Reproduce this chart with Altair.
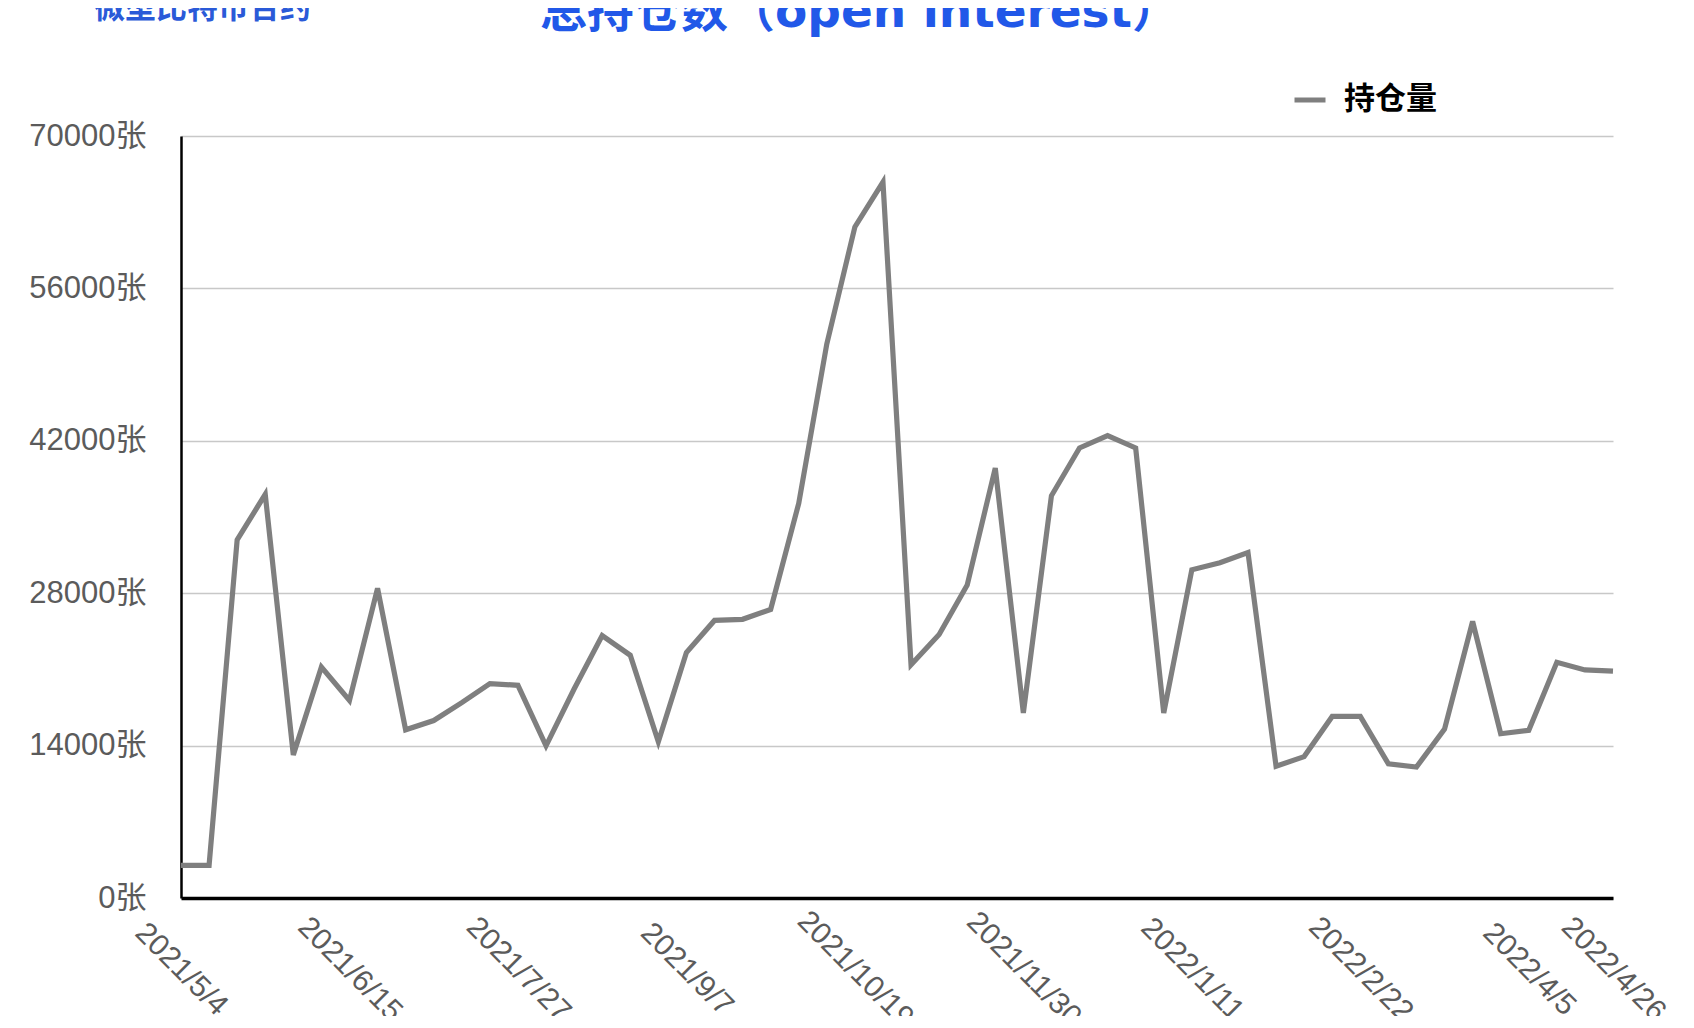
import altair as alt
import pandas as pd

# weekly observation dates (categories)
dates = [f"{d.year}/{d.month}/{d.day}" for d in pd.date_range("2021-05-04", periods=52, freq="7D")]

# open interest values (contracts)
open_interest = [
    3000, 3000, 32900, 37080, 13150, 21220, 18150, 28450, 15450, 16300,
    17950, 19700, 19540, 13980, 19200, 24100, 22300, 14350, 22550, 25500,
    25600, 26500, 36250, 50900, 61650, 65770, 21430, 24200, 28750, 39500,
    17000, 36950, 41340, 42480, 41340, 17000, 30150, 30800, 31740, 12110,
    12990, 16680, 16680, 12320, 12030, 15520, 25400, 15090, 15400, 21650,
    20950, 20840,
]
assert len(dates) == len(open_interest)

tick_dates = [dates[i] for i in (0, 6, 12, 18, 24, 30, 36, 42, 48, 51)]
y_ticks = [0, 14000, 28000, 42000, 56000, 70000]

series_name = "持仓量"
title_text = "总持仓数（open interest）"
subtitle_text = "微型比特币合约"

df = pd.DataFrame({"date": dates, "oi": open_interest, "series": series_name})

label_font = "Liberation Sans, Noto Sans CJK SC"
label_color = "#5b5b5b"

line = alt.Chart(df).mark_line(strokeWidth=5.2).encode(
    x=alt.X(
        "date:O",
        sort=None,
        title=None,
        scale=alt.Scale(type="point", padding=0),
        axis=alt.Axis(
            values=tick_dates,
            labelAngle=45,
            labelAlign="center",
            labelBaseline="middle",
            labelPadding=71,
            ticks=False,
            tickSize=0,
            grid=False,
            domainColor="black",
            domainWidth=3.5,
            labelFont=label_font,
            labelFontSize=30,
            labelColor=label_color,
            labelOverlap=False,
            labelFlush=False,
        ),
    ),
    y=alt.Y(
        "oi:Q",
        title=None,
        scale=alt.Scale(domain=[0, 70000], nice=False),
        axis=alt.Axis(
            values=y_ticks,
            labelExpr="datum.value + '张'",
            ticks=False,
            tickSize=0,
            labelPadding=35,
            grid=True,
            gridColor="#c8c8c8",
            gridWidth=1.5,
            domainColor="black",
            domainWidth=2.5,
            labelFont=label_font,
            labelFontSize=31,
            labelColor=label_color,
        ),
    ),
    color=alt.Color(
        "series:N",
        scale=alt.Scale(range=["#7f7f7f"]),
        legend=alt.Legend(
            title=None,
            orient="none",
            legendX=1111,
            legendY=-54,
            symbolType="stroke",
            symbolSize=961,
            symbolStrokeWidth=5,
            labelFont="Noto Sans CJK SC",
            labelFontSize=31,
            labelFontWeight="bold",
            labelColor="black",
            labelOffset=16,
            padding=0,
        ),
    ),
)

title = alt.Chart(alt.Data(values=[{"t": title_text}])).mark_text(
    align="left", baseline="alphabetic", font="DejaVu Sans, Noto Sans CJK SC",
    fontSize=47, fontWeight="bold", color="#2158e8",
).encode(text="t:N", x=alt.value(359), y=alt.value(-109))

subtitle = alt.Chart(alt.Data(values=[{"t": subtitle_text}])).mark_text(
    align="left", baseline="alphabetic", font="Noto Sans CJK SC",
    fontSize=31, fontWeight="bold", color="#2a5ad8",
).encode(text="t:N", x=alt.value(-87), y=alt.value(-118))

chart = alt.layer(line, title, subtitle).properties(
    width=1432,
    height=762,
    autosize=alt.AutoSizeParams(type="none"),
    padding={"left": 173, "top": 128, "right": 73, "bottom": 118},
).configure_view(stroke=None)

chart.save("out.html", embed_options={"renderer": "svg", "actions": False})
